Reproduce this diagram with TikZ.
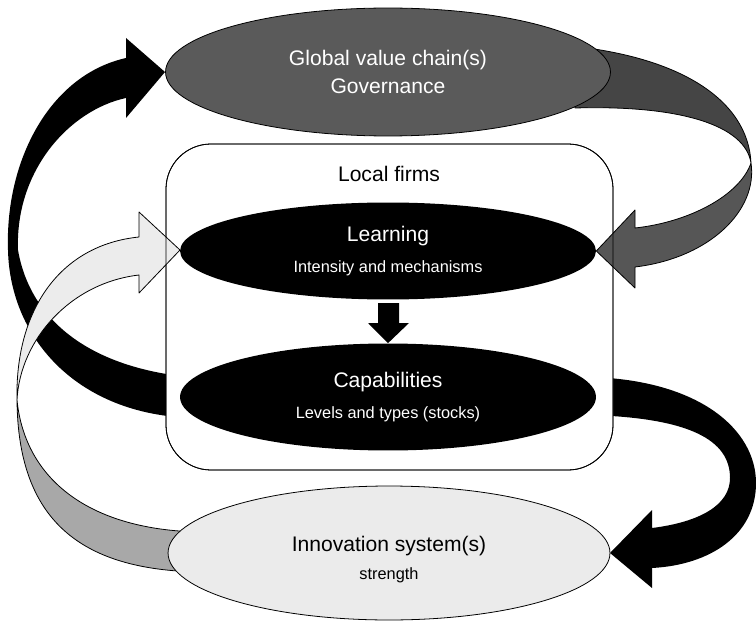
\documentclass[tikz,border=0pt]{standalone}
\usepackage{fontspec}
\setmainfont{Liberation Sans}
\usetikzlibrary{shapes.geometric, positioning}
\usepackage{xcolor}

\definecolor{gvcgray}{HTML}{5A5A5A}
\definecolor{gvcdark}{HTML}{454545}
\definecolor{gvcband}{HTML}{565656}
\definecolor{innogray}{HTML}{EBEBEB}
\definecolor{lightband}{HTML}{ECECEC}
\definecolor{midband}{HTML}{A8A8A8}

\newcommand{\subtxt}[1]{{\fontsize{9.3}{11}\selectfont #1}}

\begin{document}
\begin{tikzpicture}[x=0.02cm, y=-0.02cm,
        blob/.style={ellipse, inner sep=0pt, align=center, font=\fontsize{12}{15}\selectfont},
        band/.style={draw=black, line width=0.45pt, line join=round}]
        \useasboundingbox (0,0) rectangle (756,621);
        % Left black arrow (capabilities -> governance), behind the box
        \coordinate (gvctip) at (165,72);
        \fill[black] (200,378) .. controls (90,370) and (30,320) .. (18,250)
            .. controls (15,170) and (70,110) .. (126,98) -- (126,118) -- (gvctip)
            -- (126,38) -- (126,58) .. controls (50,75) and (5,160) .. (8,250)
            .. controls (10,340) and (80,418) .. (200,418) -- cycle;
        % Right black arrow (capabilities -> innovation system)
        \coordinate (innotip) at (610,553);
        \fill[black] (590,377) .. controls (700,380) and (756,430) .. (756,483)
            .. controls (756,535) and (710,565) .. (652,568) -- (652,588) -- (innotip)
            -- (652,510) -- (652,528) .. controls (700,522) and (730,505) .. (730,478)
            .. controls (730,440) and (690,418) .. (590,415) -- cycle;
        % Local firms box
        \draw[fill=white, line width=0.45pt, rounded corners=0.9cm] (166,144) rectangle (613,470);
        \node (firms) at (389,174) {\fontsize{12}{15}\selectfont Local firms};
        % Governance band, upper part
        \draw[band, fill=gvcdark] (560,45) .. controls (680,55) and (748,100) .. (751,163)
            .. controls (745,125) and (680,105) .. (575,108) -- cycle;
        % Innovation band, lower part
        \draw[band, fill=midband] (17,400) .. controls (18,520) and (80,570) .. (200,572)
            -- (200,532) .. controls (90,530) and (25,480) .. (17,400) -- cycle;
        % Innovation band, upper part with head
        \coordinate (learntip) at (180,250);
        \draw[band, fill=lightband] (139,237) .. controls (60,245) and (15,310) .. (17,400)
            .. controls (20,340) and (70,283) .. (139,275) -- (139,293) -- (learntip)
            -- (139,212) -- cycle;
        % Ellipses
        \node[blob, draw, fill=gvcgray, text=white, line width=0.45pt,
            minimum width=8.9cm, minimum height=2.56cm] (gvc) at (388,72)
            {Global value chain(s)\\[1pt]Governance};
        \node[blob, fill=black, text=white, minimum width=8.32cm, minimum height=1.94cm] (learn) at (388,251)
            {Learning\\[3pt]\subtxt{Intensity and mechanisms}};
        \node[blob, fill=black, text=white, minimum width=8.32cm, minimum height=2.14cm] (cap) at (388,397)
            {Capabilities\\[3pt]\subtxt{Levels and types (stocks)}};
        \node[blob, draw, fill=innogray, line width=0.45pt,
            minimum width=8.84cm, minimum height=2.68cm] (inno) at (389,553)
            {\rule{0pt}{16pt}Innovation system(s)\\[1pt]\subtxt{strength}};
        % Governance band, lower part with head
        \draw[band, fill=gvcband] (751,163) .. controls (758,210) and (710,258) .. (635,267)
            -- (635,288) -- (learn.east) -- (635,210) -- (635,228)
            .. controls (690,222) and (740,195) .. (751,163) -- cycle;
        % Box border over the heads
        \draw[line width=0.45pt, rounded corners=0.9cm] (166,144) rectangle (613,470);
        % Learning -> capabilities
        \fill[black] (378,303) -- (399,303) -- (399,323) -- (409,323) -- (cap.north)
            -- (368,323) -- (378,323) -- cycle;
\end{tikzpicture}
\end{document}
